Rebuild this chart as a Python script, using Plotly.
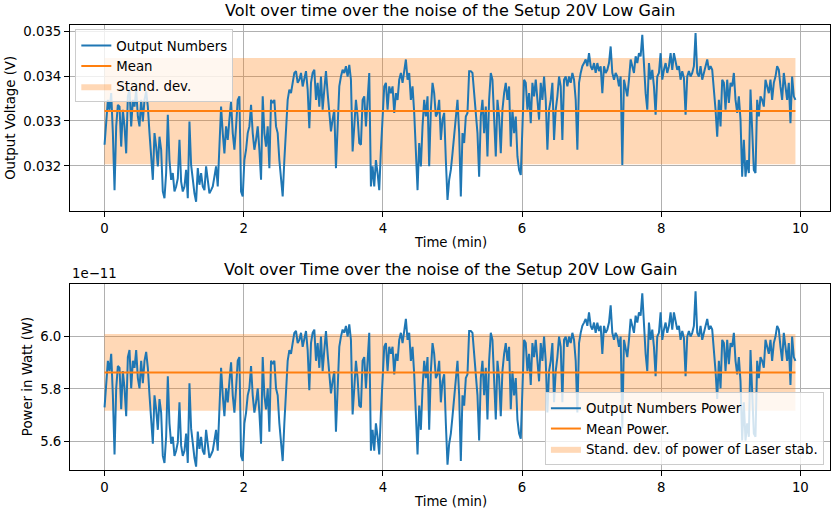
import numpy as np
import plotly.graph_objects as go

output_mv = [
    32.47, 32.88, 33.47, 33.25, 33.62, 32.73, 31.46, 32.88, 33.36, 33.32,
    32.43, 33.25, 32.88, 32.28, 33.55, 33.70, 32.88, 33.47, 33.32, 33.70,
    33.10, 32.88, 33.47, 32.99, 33.47, 33.66, 33.32, 32.73, 32.28, 31.69,
    32.73, 32.43, 31.99, 32.65, 32.36, 31.43, 31.28, 31.84, 33.14, 32.13,
    31.69, 31.84, 31.43, 31.54, 31.72, 32.58, 31.65, 31.43, 31.54, 31.91,
    31.28, 32.99, 32.02, 31.69, 31.39, 31.20, 31.95, 31.58, 31.84, 31.54,
    31.46, 31.99, 31.69, 31.39, 31.46, 31.54, 31.76, 31.99, 31.54, 32.58,
    33.32, 32.73, 32.28, 32.88, 32.58, 33.03, 33.44, 32.73, 32.36, 32.88,
    33.47, 33.55, 31.43, 31.32, 32.13, 32.36, 32.73, 32.88, 33.36, 32.73,
    32.36, 32.58, 32.88, 32.36, 31.69, 33.55, 32.73, 32.43, 32.88, 31.95,
    33.47, 33.40, 33.47, 32.88, 32.73, 32.13, 31.69, 31.32, 32.13, 32.95,
    33.47, 33.70, 33.62, 33.85, 34.07, 34.11, 33.85, 33.92, 34.07, 33.77,
    33.99, 34.11, 33.70, 32.84, 33.85, 34.07, 34.14, 33.47, 33.85, 33.32,
    33.99, 33.25, 33.70, 34.11, 33.62, 33.18, 32.77, 33.03, 33.25, 31.95,
    33.10, 33.77, 33.99, 34.14, 34.07, 34.22, 33.99, 34.25, 33.92, 32.32,
    32.88, 33.47, 33.10, 32.51, 32.47, 33.47, 33.55, 32.88, 33.47, 34.07,
    31.54, 31.99, 31.54, 32.13, 31.84, 31.46, 32.36, 33.25, 33.77, 33.85,
    33.25, 33.77, 33.62, 33.77, 33.18, 33.62, 33.47, 33.92, 34.07, 33.85,
    34.14, 34.37, 33.92, 34.07, 33.47, 33.77, 33.18, 32.36, 31.46, 32.51,
    31.99, 32.88, 33.47, 33.10, 33.55, 31.99, 33.25, 33.85, 33.62, 33.10,
    33.18, 33.47, 32.58, 33.03, 33.18, 32.13, 31.24, 31.69, 31.91, 32.28,
    32.73, 33.10, 33.47,
    32.73, 31.32, 32.73, 32.51, 33.10, 33.18, 34.11, 34.11, 34.07, 33.62,
    33.10, 32.73, 31.76, 33.10, 33.47, 32.73, 33.32, 32.21, 33.47, 34.07,
    33.92, 33.18, 32.21, 33.47, 33.10, 32.28, 33.25, 33.62, 33.85, 33.47,
    33.77, 32.43, 33.25, 32.73, 33.10, 32.21, 31.91, 31.80, 32.73, 33.92,
    33.85, 33.25, 33.62, 32.95, 33.85, 33.55, 33.92, 33.47, 33.03, 33.85,
    33.47, 33.99, 33.47, 32.36, 33.25, 33.47, 33.85, 32.58, 33.25, 33.55,
    33.99, 33.77, 32.58, 33.92, 33.99, 33.77, 33.99, 33.85, 34.07, 33.92,
    33.47, 32.36, 33.85, 34.07, 34.22, 34.29, 34.37, 34.22, 34.51, 34.22,
    34.14, 34.29, 34.07, 34.29, 34.11, 34.22, 33.62, 34.22, 34.07, 34.14,
    34.29, 34.66, 34.07, 33.92, 34.07, 33.99, 33.77, 33.99, 32.02, 33.92,
    33.77, 33.55, 33.92, 34.37, 34.22, 34.07, 34.44, 34.29, 34.51, 34.44,
    34.92, 34.22, 33.62, 33.25, 34.29, 33.92, 34.14, 33.77, 33.14, 33.99,
    34.07, 34.51, 33.92, 34.14, 34.29, 34.07, 34.22, 34.51, 34.14, 34.51,
    34.29, 34.14, 34.22, 33.92, 34.11, 33.96, 33.14, 33.99, 34.11, 33.99,
    34.07, 34.22, 34.96, 34.07, 33.99, 34.22, 33.92, 34.07, 34.22, 34.37,
    34.14, 34.22, 34.14, 33.77, 33.25, 32.65, 33.47, 32.88, 33.92, 33.85,
    33.25, 33.92, 33.40, 33.85, 33.77, 34.07, 33.47, 33.18, 33.55, 33.03,
    31.76, 32.58, 31.76, 32.13, 31.84, 33.70, 32.73, 31.91, 31.84, 33.47,
    33.10, 33.55, 33.47, 33.32, 33.92, 33.77, 33.62, 33.92, 33.47, 33.85,
    33.99, 34.22, 34.14, 33.77, 33.47, 34.07, 33.77, 33.47, 33.85, 32.95,
    33.99, 33.55, 33.47,
]

t_end_min = 9.93
mean_voltage = 0.03322
std_voltage = 0.001185
responsivity_w_per_v = 1.7646e-9
mean_power = 5.862e-11
std_power = 1.453e-12

time_min = np.linspace(0, t_end_min, len(output_mv))
voltage = np.array(output_mv) * 1e-3
power = voltage * responsivity_w_per_v

x_ticks = [0, 2, 4, 6, 8, 10]
v_ticks = [0.032, 0.033, 0.034, 0.035]
v_tick_text = ["0.032", "0.033", "0.034", "0.035"]
p_ticks = [5.6e-11, 5.8e-11, 6.0e-11]
p_tick_text = ["5.6", "5.8", "6.0"]

BLUE = "#1f77b4"
ORANGE = "#ff7f0e"
BAND = "rgba(255,127,14,0.3)"
FONT = "DejaVu Sans"

fig = go.Figure()


def add_panel(fig, y, mean, std, xa, ya, leg, names):
    lo, hi = mean - std, mean + std
    fig.add_trace(go.Scatter(
        x=[0, t_end_min, t_end_min, 0, 0], y=[lo, lo, hi, hi, lo],
        fill="toself", fillcolor=BAND, mode="lines", line=dict(width=0),
        name=names[2], legendrank=3, xaxis=xa, yaxis=ya, legend=leg,
        hoverinfo="skip"))
    fig.add_trace(go.Scatter(
        x=time_min, y=y, mode="lines", line=dict(color=BLUE, width=2),
        name=names[0], legendrank=1, xaxis=xa, yaxis=ya, legend=leg))
    fig.add_trace(go.Scatter(
        x=[0, t_end_min], y=[mean, mean], mode="lines",
        line=dict(color=ORANGE, width=2),
        name=names[1], legendrank=2, xaxis=xa, yaxis=ya, legend=leg))


add_panel(fig, voltage, mean_voltage, std_voltage, "x", "y", "legend",
          ["Output Numbers", "Mean", "Stand. dev."])
add_panel(fig, power, mean_power, std_power, "x2", "y2", "legend2",
          ["Output Numbers Power", "Mean Power.",
           "Stand. dev. of power of Laser stab."])

axis_common = dict(
    ticks="outside", ticklen=5, tickwidth=1, tickcolor="black",
    showline=True, mirror=True, linecolor="black", linewidth=1,
    showgrid=True, gridcolor="#b0b0b0", gridwidth=1, zeroline=False,
    tickfont=dict(family=FONT, size=13.3, color="black"),
)

top_dom = [0.5827, 1.0]
bot_dom = [0.0, 0.4173]

fig.update_layout(
    width=831, height=512,
    margin=dict(l=70, r=1, t=25, b=42),
    paper_bgcolor="white", plot_bgcolor="white",
    font=dict(family=FONT, size=13.3, color="black"),
    xaxis=dict(domain=[0, 1], anchor="y", range=[-0.4965, 10.4265],
               tickvals=x_ticks, **axis_common),
    yaxis=dict(domain=top_dom, anchor="x", range=[0.031002, 0.035138],
               tickvals=v_ticks, ticktext=v_tick_text, **axis_common),
    xaxis2=dict(domain=[0, 1], anchor="y2", range=[-0.4965, 10.4265],
                tickvals=x_ticks, **axis_common),
    yaxis2=dict(domain=bot_dom, anchor="x2", range=[5.4928e-11, 6.1958e-11],
                tickvals=p_ticks, ticktext=p_tick_text, **axis_common),
    legend=dict(x=0.007, y=0.99, xanchor="left", yanchor="top",
                bgcolor="rgba(255,255,255,0.8)", bordercolor="#cccccc",
                borderwidth=1, font=dict(family=FONT, size=13.3),
                traceorder="normal", itemwidth=30),
    legend2=dict(x=0.992, y=0.011, xanchor="right", yanchor="bottom",
                 bgcolor="rgba(255,255,255,0.8)", bordercolor="#cccccc",
                 borderwidth=1, font=dict(family=FONT, size=13.3),
                 traceorder="normal", itemwidth=30),
    showlegend=True,
)

ann = []
ann.append(dict(text="Volt over time over the noise of the Setup 20V Low Gain",
                x=0.5, y=top_dom[1], xref="paper", yref="paper",
                xanchor="center", yanchor="bottom", yshift=3, showarrow=False,
                font=dict(family=FONT, size=16, color="black")))
ann.append(dict(text="Volt over Time over the noise of the Setup 20V Low Gain",
                x=0.5, y=bot_dom[1], xref="paper", yref="paper",
                xanchor="center", yanchor="bottom", yshift=3, showarrow=False,
                font=dict(family=FONT, size=16, color="black")))
ann.append(dict(text="Time (min)", x=0.5, y=top_dom[0], xref="paper",
                yref="paper", xanchor="center", yanchor="middle",
                yshift=-32, showarrow=False,
                font=dict(family=FONT, size=13.3, color="black")))
ann.append(dict(text="Time (min)", x=0.5, y=bot_dom[0], xref="paper",
                yref="paper", xanchor="center", yanchor="middle",
                yshift=-31, showarrow=False,
                font=dict(family=FONT, size=13.3, color="black")))
ann.append(dict(text="Output Voltage (V)", x=0, y=sum(top_dom) / 2,
                xref="paper", yref="paper", xanchor="center",
                yanchor="middle", xshift=-59, textangle=-90,
                showarrow=False,
                font=dict(family=FONT, size=13.3, color="black")))
ann.append(dict(text="Power in Watt (W)", x=0, y=sum(bot_dom) / 2,
                xref="paper", yref="paper", xanchor="center",
                yanchor="middle", xshift=-43, textangle=-90,
                showarrow=False,
                font=dict(family=FONT, size=13.3, color="black")))
ann.append(dict(text="1e\u221211", x=0, y=bot_dom[1], xref="paper",
                yref="paper", xanchor="left", yanchor="bottom", yshift=1,
                showarrow=False,
                font=dict(family=FONT, size=13.3, color="black")))
fig.update_layout(annotations=ann)

fig.write_html("out.html")
